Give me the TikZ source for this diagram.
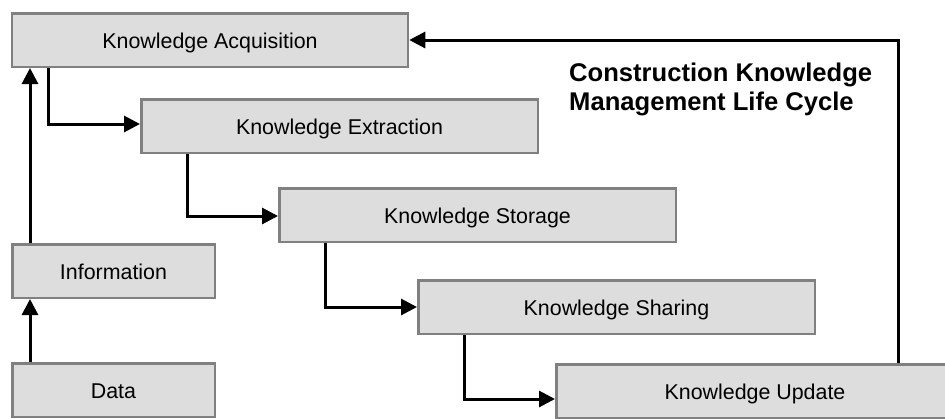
\documentclass[tikz,border=0pt]{standalone}
\usepackage{fontspec}
\setmainfont{Liberation Sans}
\usetikzlibrary{arrows.meta}
\definecolor{boxfill}{RGB}{221,221,221}
\definecolor{boxline}{RGB}{128,128,128}
\tikzset{
  stagebox/.style={draw=boxline, fill=boxfill, line width=2.5pt, inner sep=0pt,
    minimum width=#1, minimum height=53.5pt, text height=17pt, text depth=0pt,
    font=\fontsize{21.4}{25}\selectfont},
  conn/.style={line width=3pt, draw=black, -{Triangle[length=16pt,width=16pt]}},
  titletext/.style={anchor=base west, inner sep=0pt, align=left,
    font=\fontsize{25.6}{29}\selectfont\bfseries}
}
\begin{document}
\begin{tikzpicture}[x=1pt,y=-1pt]
\useasboundingbox (0,0) rectangle (945,418);
\clip (0,0) rectangle (945,418);
\node[stagebox=396pt] (KA) at (210,40) {Knowledge Acquisition};
\node[stagebox=396.5pt] (KE) at (339.5,126) {Knowledge Extraction};
\node[stagebox=396.5pt] (ST) at (477.5,215) {Knowledge Storage};
\node[stagebox=396.5pt] (SH) at (616.5,307) {Knowledge Sharing};
\node[stagebox=397.5pt] (UP) at (755,391) {Knowledge Update};
\node[stagebox=202.5pt] (INFO) at (113.5,271) {Information};
\node[stagebox=202.5pt] (DATA) at (113.5,390) {Data};
\node[titletext] (TITLE) at (569,110) {Construction Knowledge\\Management Life Cycle};
\coordinate (c1) at (48,124);
\coordinate (c2) at (187,216);
\coordinate (c3) at (325,307);
\coordinate (c4) at (464,399);
\coordinate (c5) at (898,40);
\coordinate (c0) at (30,0);
\draw[conn] (KA.south -| c1) |- (KE.west |- c1);
\draw[conn] (KE.south -| c2) |- (ST.west |- c2);
\draw[conn] (ST.south -| c3) |- (SH.west |- c3);
\draw[conn] (SH.south -| c4) |- (UP.west |- c4);
\draw[conn] (UP.north -| c5) |- (KA.east);
\draw[conn] (INFO.north -| c0) -- (KA.south -| c0);
\draw[conn] (DATA.north -| c0) -- (INFO.south -| c0);
\end{tikzpicture}
\end{document}
